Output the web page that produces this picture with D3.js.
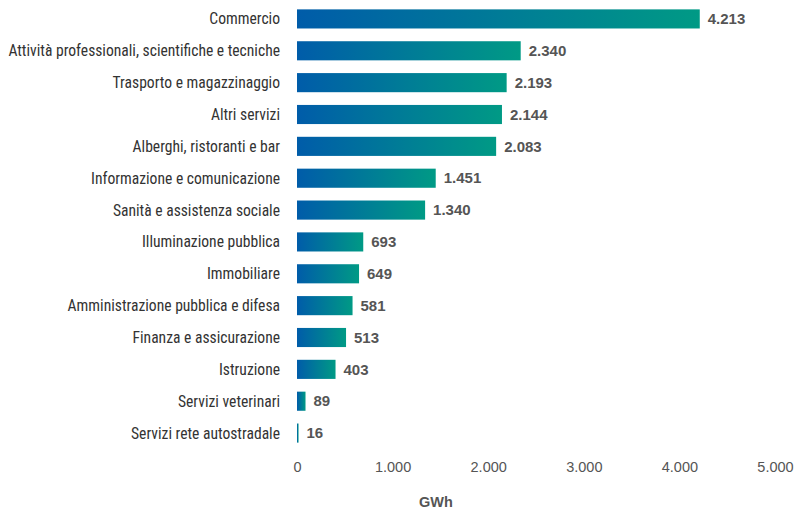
<!DOCTYPE html>
<html><head><meta charset="utf-8">
<script src="https://cdn.jsdelivr.net/npm/d3@7"></script>
<style>body{margin:0;background:#fff}svg{display:block}</style>
</head><body>
<svg id="chart" width="805" height="510"></svg>
<script>
const categories = ["Commercio","Attività professionali, scientifiche e tecniche","Trasporto e magazzinaggio","Altri servizi","Alberghi, ristoranti e bar","Informazione e comunicazione","Sanità e assistenza sociale","Illuminazione pubblica","Immobiliare","Amministrazione pubblica e difesa","Finanza e assicurazione","Istruzione","Servizi veterinari","Servizi rete autostradale"];
const values = [4213,2340,2193,2144,2083,1451,1340,693,649,581,513,403,89,16];
const tickValues = [0,1000,2000,3000,4000,5000];
const tickLabels = ["0","1.000","2.000","3.000","4.000","5.000"];
const axisTitle = "GWh";

const svg = d3.select("#chart");
const x = d3.scaleLinear().domain([0,5000]).range([297,775]);
const y = d3.scaleBand().domain(categories).range([3,449]).paddingInner(0.4).paddingOuter(0.2);
const fmt = v => d3.format(",")(v).replace(/,/g,".");

const defs = svg.append("defs");
const g = defs.append("linearGradient").attr("id","grad").attr("x1","0").attr("x2","1").attr("y1","0").attr("y2","0");
g.append("stop").attr("offset","0%").attr("stop-color","#005ca9");
g.append("stop").attr("offset","100%").attr("stop-color","#009a85");

const font = "'Liberation Sans Narrow','Roboto Condensed','Liberation Sans',Arial,sans-serif";

svg.selectAll("rect.bar").data(values).join("rect").attr("class","bar")
  .attr("x", x(0)).attr("y",(d,i)=>y(categories[i]))
  .attr("width", d=>x(d)-x(0)).attr("height", y.bandwidth())
  .attr("fill","url(#grad)");

svg.selectAll("text.cat").data(categories).join("text").attr("class","cat")
  .attr("x",280).attr("y",d=>y(d)+y.bandwidth()/2).attr("dy","0.35em")
  .attr("text-anchor","end").attr("font-family",font).attr("font-size",15.6)
  .attr("fill","#333").text(d=>d);

svg.selectAll("text.val").data(values).join("text").attr("class","val")
  .attr("x",d=>x(d)+8).attr("y",(d,i)=>y(categories[i])+y.bandwidth()/2).attr("dy","0.35em")
  .attr("font-family","'Liberation Sans',Arial,sans-serif").attr("font-weight","bold").attr("font-size",15)
  .attr("fill","#555").text(d=>fmt(d));

const axis = d3.axisBottom(x).tickValues(tickValues).tickFormat((d,i)=>tickLabels[i]).tickSize(0).tickPadding(0);
const ax = svg.append("g").attr("transform","translate(0,462)").call(axis);
ax.select(".domain").remove();
ax.selectAll("text").attr("font-family","'Liberation Sans',Arial,sans-serif").attr("font-size",14.5).attr("fill","#555").attr("dy","0.71em");

svg.append("text").attr("x",436).attr("y",507).attr("text-anchor","middle")
  .attr("font-family","'Liberation Sans',Arial,sans-serif").attr("font-weight","bold").attr("font-size",14.5)
  .attr("fill","#555").text(axisTitle);
</script>
</body></html>
